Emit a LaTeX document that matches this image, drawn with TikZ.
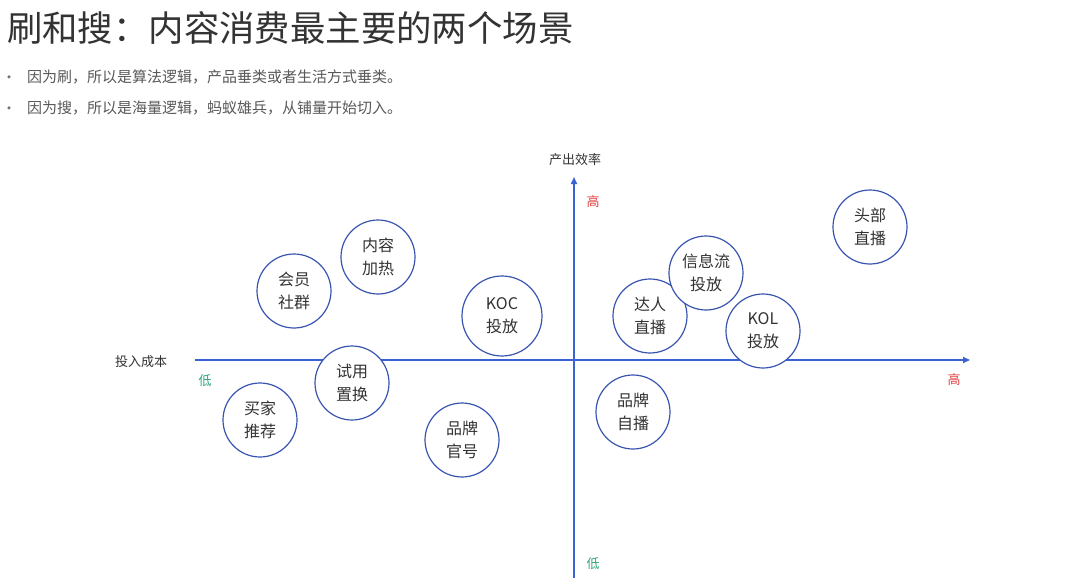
\documentclass[tikz,border=0pt]{standalone}
\usepackage{fontspec}
\setmainfont{Noto Sans CJK SC}
\usetikzlibrary{arrows.meta}
\definecolor{axisblue}{HTML}{3A62D6}
\definecolor{circblue}{HTML}{3A55B0}
\definecolor{txt}{HTML}{333333}
\definecolor{hi}{HTML}{E04040}
\definecolor{lo}{HTML}{2EA878}
\tikzset{
  bubble/.style={circle, draw=circblue, line width=1.2pt, fill=white, minimum size=74pt, inner sep=0pt,
    align=center, text=txt, font=\fontsize{16}{23}\selectfont},
  axis/.style={draw=axisblue, line width=1.6pt, -{Triangle[length=7pt,width=6pt]}},
  axlabel/.style={text=txt, font=\fontsize{13}{15}\selectfont, inner sep=0pt},
  hilabel/.style={text=hi, font=\fontsize{13}{15}\selectfont, inner sep=0pt},
  lolabel/.style={text=lo, font=\fontsize{13}{15}\selectfont, inner sep=0pt},
  bullettext/.style={text=black!65, font=\fontsize{15}{17}\selectfont, anchor=west, inner sep=0pt},
  bulletdot/.style={circle, fill=black!55, inner sep=0pt, minimum size=3.5pt}
}
\begin{document}
\begin{tikzpicture}[x=1pt,y=-1pt]
\useasboundingbox[fill=white] (0,0) rectangle (1080,586);
% title
\node[anchor=west, inner sep=0pt, text=black!80, font=\fontsize{35.4}{40}\selectfont] (title) at (7,28) {刷和搜：内容消费最主要的两个场景};
% bullets
\node[bulletdot] (b1) at (9,77) {};
\node[bullettext] (t1) at (27,77) {因为刷，所以是算法逻辑，产品垂类或者生活方式垂类。};
\node[bulletdot] (b2) at (9,108) {};
\node[bullettext] (t2) at (27,108) {因为搜，所以是海量逻辑，蚂蚁雄兵，从铺量开始切入。};
% axes
\coordinate (xs) at (195,360);
\coordinate (xe) at (970,360);
\coordinate (ys) at (574,578);
\coordinate (ye) at (574,177);
\draw[axis] (xs) -- (xe);
\draw[axis] (ys) -- (ye);
\node[axlabel] (ylab) at (575,160) {产出效率};
\node[axlabel] (xlab) at (141,362) {投入成本};
\node[hilabel] (yhi) at (593,202) {高};
\node[hilabel] (xhi) at (954,380) {高};
\node[lolabel] (xlo) at (205,381) {低};
\node[lolabel] (ylo) at (593,564) {低};
% bubbles
\node[bubble] (hy) at (294,291) {会员\\社群};
\node[bubble] (nr) at (378,257) {内容\\加热};
\node[bubble, minimum size=80pt] (koc) at (502,316) {KOC\\投放};
\node[bubble] (sy) at (352,383) {试用\\置换};
\node[bubble] (mj) at (260,420) {买家\\推荐};
\node[bubble] (pg) at (462,440) {品牌\\官号};
\node[bubble] (pz) at (633,412) {品牌\\自播};
\node[bubble] (tb) at (870,227) {头部\\直播};
\node[bubble] (dr) at (650,316) {达人\\直播};
\node[bubble] (xx) at (706,273) {信息流\\投放};
\node[bubble] (kol) at (763,331) {KOL\\投放};
\end{tikzpicture}
\end{document}
